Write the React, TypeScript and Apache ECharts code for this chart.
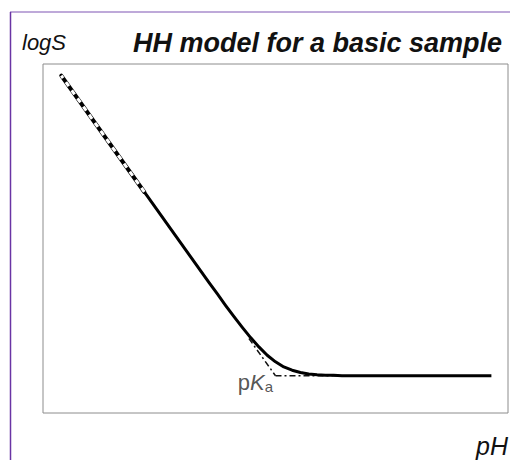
import React, { useEffect, useRef } from "react";
import * as echarts from "echarts";

// Values (pH on x, logS on y)
const dashedPH = [0.55, 3.05];
const dashedLogS = [-0.25, -2.75];

const curvePH = [3.05, 4, 5, 5.25, 5.5, 5.75, 6, 6.25, 6.5, 6.75, 7, 7.25, 7.5, 7.75, 8, 8.25, 8.5, 8.75, 9, 10, 11, 12, 13.5];
const curveLogS = [-2.75, -3.7, -4.7, -4.94, -5.19, -5.43, -5.66, -5.88, -6.08, -6.26, -6.4, -6.51, -6.58, -6.63, -6.66, -6.68, -6.69, -6.69, -6.7, -6.7, -6.7, -6.7, -6.7];

const slopeAsymPH = [6.2, 7];
const slopeAsymLogS = [-5.9, -6.7];
const flatAsymPH = [7, 9];
const flatAsymLogS = [-6.7, -6.7];

const pKa = 7;
const logS0 = -6.7;

const FONT = "'Liberation Sans', Arial, Helvetica, sans-serif";

const zip = (xs: number[], ys: number[]) => xs.map((x, i) => [x, ys[i]]);

export default function App() {
  const ref = useRef<HTMLDivElement>(null);
  useEffect(() => {
    document.body.style.margin = "0";
    const chart = echarts.init(ref.current!, null, { renderer: "svg" });
    chart.setOption({
      animation: false,
      backgroundColor: "#ffffff",
      title: {
        text: "HH model for a basic sample",
        right: 3,
        top: 24,
        textStyle: {
          fontFamily: FONT,
          fontSize: 27,
          fontWeight: "bold",
          fontStyle: "italic",
          color: "#111",
        },
      },
      grid: {
        left: 43,
        right: 2,
        top: 64,
        bottom: 47,
        show: true,
        borderColor: "#8c8c8c",
        borderWidth: 1,
        backgroundColor: "transparent",
      },
      xAxis: {
        type: "value",
        min: 0,
        max: 14,
        show: false,
      },
      yAxis: {
        type: "value",
        min: -7.5,
        max: 0,
        show: false,
      },
      graphic: [
        {
          type: "line",
          shape: { x1: 10, y1: 12, x2: 510, y2: 12 },
          style: { stroke: "#a88dcc", lineWidth: 1.5 },
        },
        {
          type: "line",
          shape: { x1: 10.5, y1: 12, x2: 10.5, y2: 460 },
          style: { stroke: "#6a34a4", lineWidth: 1.5 },
        },
        {
          type: "text",
          left: 22,
          top: 31,
          style: {
            text: "logS",
            font: `italic 22px ${FONT}`,
            fill: "#111",
          },
        },
        {
          type: "text",
          right: 2,
          top: 433,
          style: {
            text: "pH",
            font: `italic 25px ${FONT}`,
            fill: "#111",
          },
        },
      ],
      series: [
        {
          type: "line",
          data: zip(dashedPH, dashedLogS),
          showSymbol: false,
          lineStyle: { color: "#000", width: 4, cap: "round" },
          z: 3,
        },
        {
          type: "line",
          data: zip(dashedPH, dashedLogS),
          showSymbol: false,
          lineStyle: { color: "#fff", width: 3, type: [5, 5], dashOffset: 2 },
          z: 4,
        },
        {
          type: "line",
          data: zip(curvePH, curveLogS),
          showSymbol: false,
          lineStyle: { color: "#000", width: 3, join: "round" },
          z: 3,
        },
        {
          type: "line",
          data: zip(slopeAsymPH, slopeAsymLogS),
          showSymbol: false,
          lineStyle: { color: "#111", width: 1.5, type: [6, 3, 2, 3] },
          z: 2,
        },
        {
          type: "line",
          data: zip(flatAsymPH, flatAsymLogS),
          showSymbol: false,
          lineStyle: { color: "#111", width: 1.5, type: [6, 3, 2, 3] },
          z: 2,
        },
        {
          type: "scatter",
          data: [[pKa, logS0]],
          symbolSize: 1,
          itemStyle: { color: "transparent" },
          label: {
            show: true,
            position: "left",
            distance: 2,
            offset: [0, 7],
            formatter: "{p|p}{k|K}{a|a}",
            rich: {
              p: { fontFamily: FONT, fontSize: 22, color: "#2a2a2a" },
              k: { fontFamily: FONT, fontSize: 22, fontStyle: "italic", color: "#2a2a2a" },
              a: { fontFamily: FONT, fontSize: 15, color: "#2a2a2a", padding: [8, 0, 0, 0] },
            },
          },
          z: 5,
        },
      ],
    });
    return () => chart.dispose();
  }, []);
  return <div ref={ref} style={{ width: 510, height: 460 }} />;
}
